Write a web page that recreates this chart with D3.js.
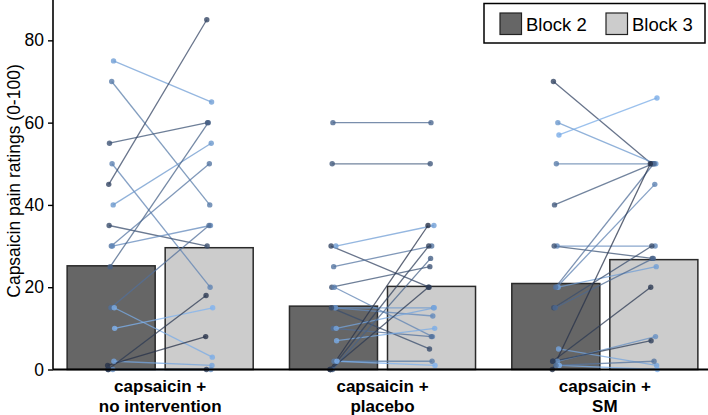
<!DOCTYPE html>
<meta charset="utf-8">
<script src="https://cdn.jsdelivr.net/npm/d3@7"></script>
<style>
  body { margin: 0; background: #fff; }
  text { font-family: "Liberation Sans", Arial, Helvetica, sans-serif; }
</style>
<body>
<script>

// categories and blocks
var groups = ["capsaicin +\nno intervention", "capsaicin +\nplacebo", "capsaicin +\nSM"];
var blocks = ["Block 2", "Block 3"];
var yTicks = [0, 20, 40, 60, 80];

// bar heights (group means), per block
var block2Means = [25.2, 15.4, 20.9];
var block3Means = [29.6, 20.2, 26.7];

// paired subject ratings: [subject, block 2, block 3]
var pairsNoIntervention = [
  [17, 75, 65], [12, 70, 40], [6, 55, 60], [13, 50, 20], [4, 45, 85], [16, 40, 55],
  [5, 35, 30], [11, 30, 50], [14, 30, 35], [8, 25, 60], [10, 15, 35], [19, 15, 3],
  [20, 10, 15], [18, 2, 1], [2, 0, 18], [1, 1, 8], [15, 0, 0], [3, 0, 0]
];
var pairsPlacebo = [
  [9, 60, 60], [7, 50, 50], [17, 30, 35], [4, 30, 20], [11, 25, 30], [6, 20, 25],
  [13, 20, 8], [16, 15, 15], [14, 15, 13], [5, 15, 5], [10, 10, 8], [18, 10, 15],
  [19, 7, 10], [12, 2, 2], [20, 2, 1], [1, 0, 35], [3, 0, 30], [8, 0, 27], [2, 0, 20]
];
var pairsSM = [
  [4, 70, 50], [16, 60, 50], [19, 57, 66], [12, 50, 50], [7, 40, 50], [14, 30, 30],
  [6, 30, 27], [13, 20, 45], [17, 20, 25], [5, 15, 30], [9, 15, 27], [10, 20, 50],
  [18, 5, 1], [2, 2, 20], [15, 2, 8], [3, 2, 7], [20, 1, 0], [11, 1, 2], [1, 0, 50]
];
var pairs = [pairsNoIntervention, pairsPlacebo, pairsSM];

var width = 708, height = 415;

var svg = d3.select("body").append("svg")
    .attr("width", width)
    .attr("height", height);

// scales
var x = d3.scaleBand().domain(groups).range([49, 716]);
var xb = d3.scaleBand().domain(blocks).range([0, x.bandwidth()])
    .paddingInner(0.102).paddingOuter(0.185);
var y = d3.scaleLinear().domain([0, 90]).range([369.5, -0.8]);
var fill = d3.scaleOrdinal().domain(blocks).range(["#666666", "#cccccc"]);
var subjColor = d3.scaleLinear().domain([1, 20])
    .range(["#27324a", "#7fb3f0"]).interpolate(d3.interpolateRgb);
var jitter = d3.scaleLinear().domain([1, 20]).range([-3.5, 3.5]);

// bars
var means = [block2Means, block3Means];
var g = svg.selectAll(".grp").data(groups).enter().append("g")
    .attr("class", "grp")
    .attr("transform", function(d) { return "translate(" + x(d) + ",0)"; });

g.selectAll("rect")
    .data(function(d, i) { return blocks.map(function(b, j) { return {block: b, v: means[j][i]}; }); })
    .enter().append("rect")
    .attr("x", function(d) { return xb(d.block); })
    .attr("width", xb.bandwidth())
    .attr("y", function(d) { return y(d.v); })
    .attr("height", function(d) { return y(0) - y(d.v); })
    .attr("fill", function(d) { return fill(d.block); })
    .attr("stroke", "#2a2a2a")
    .attr("stroke-width", 1.5);

// subject lines and points
var cx = function(block, id) { return xb(block) + xb.bandwidth() / 2 + jitter(id); };

g.each(function(d, i) {
  var sel = d3.select(this);
  var p = pairs[i];
  sel.selectAll("line.subj").data(p).enter().append("line")
      .attr("class", "subj")
      .attr("x1", function(r) { return cx(blocks[0], r[0]); })
      .attr("x2", function(r) { return cx(blocks[1], r[0]); })
      .attr("y1", function(r) { return y(r[1]); })
      .attr("y2", function(r) { return y(r[2]); })
      .attr("stroke", function(r) { return subjColor(r[0]); })
      .attr("stroke-width", 1.3)
      .attr("stroke-opacity", 0.75);
  blocks.forEach(function(b, j) {
    sel.selectAll("circle.b" + j).data(p).enter().append("circle")
        .attr("class", "b" + j)
        .attr("cx", function(r) { return cx(b, r[0]); })
        .attr("cy", function(r) { return y(r[j + 1]); })
        .attr("r", 2.7)
        .attr("fill", function(r) { return subjColor(r[0]); })
        .attr("fill-opacity", 0.8);
  });
});

// y axis
var yAxis = svg.append("g")
    .attr("transform", "translate(53,0)")
    .call(d3.axisLeft(y).tickValues(yTicks).tickSize(5).tickPadding(4));
yAxis.select(".domain").attr("stroke", "#000").attr("stroke-width", 1.6)
    .attr("d", "M0," + y(0) + "V0");
yAxis.selectAll(".tick line").attr("stroke", "#000").attr("stroke-width", 1.4);
yAxis.selectAll(".tick text").attr("font-size", 17.5).attr("fill", "#000")
    .attr("font-family", "Liberation Sans, Arial, sans-serif");

svg.append("text")
    .attr("transform", "translate(20,181) rotate(-90)")
    .attr("text-anchor", "middle")
    .attr("font-size", 17.5)
    .text("Capsaicin pain ratings (0-100)");

// x axis baseline
svg.append("line")
    .attr("x1", 53).attr("x2", 708)
    .attr("y1", y(0)).attr("y2", y(0))
    .attr("stroke", "#000").attr("stroke-width", 2.2);

// category labels
svg.selectAll(".xlab").data(groups).enter().append("text")
    .attr("class", "xlab")
    .attr("text-anchor", "middle")
    .attr("font-size", 17)
    .attr("font-weight", "bold")
    .attr("x", function(d) { return x(d) + x.bandwidth() / 2; })
    .selectAll("tspan").data(function(d) { return d.split("\n"); })
    .enter().append("tspan")
    .attr("x", function() { return d3.select(this.parentNode).attr("x"); })
    .attr("y", function(d, i) { return 392 + i * 20; })
    .text(function(d) { return d; });

// legend
var legend = svg.append("g");
legend.append("rect")
    .attr("x", 484).attr("y", 3.5).attr("width", 221).attr("height", 39.5)
    .attr("fill", "#fff").attr("stroke", "#000").attr("stroke-width", 1.5);
var li = legend.selectAll(".li").data(blocks).enter().append("g")
    .attr("transform", function(d, i) { return "translate(" + (500 + i * 106) + ",13)"; });
li.append("rect")
    .attr("width", 21.5).attr("height", 21.5)
    .attr("fill", fill)
    .attr("stroke", "#222").attr("stroke-width", 1.2);
li.append("text")
    .attr("x", 26).attr("y", 18)
    .attr("font-size", 18.5)
    .text(function(d) { return d; });

</script>
</body>
